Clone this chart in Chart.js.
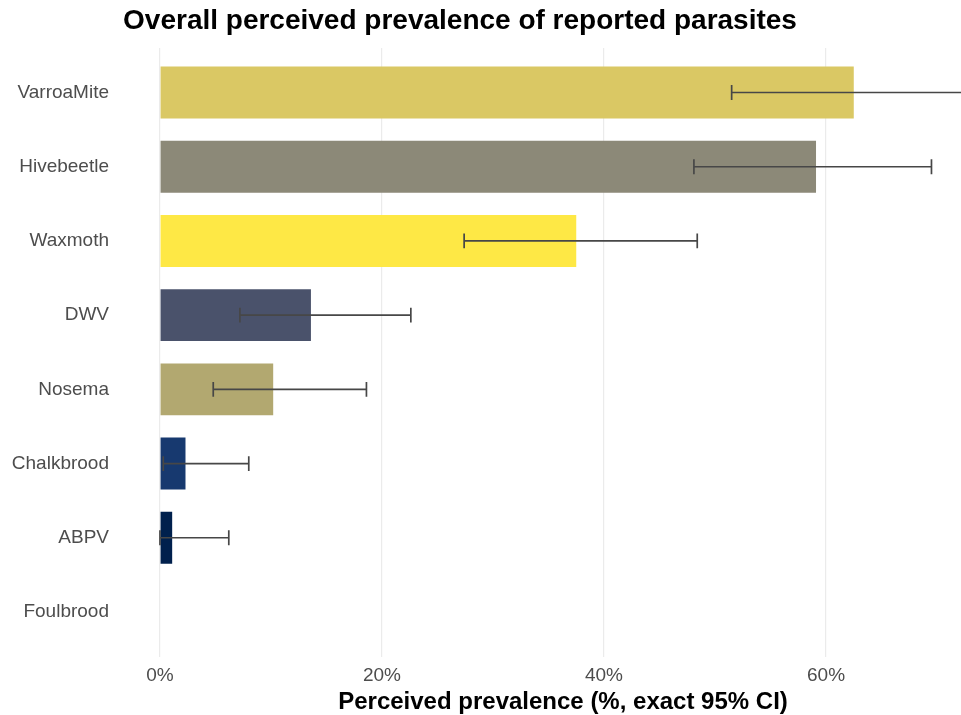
<!DOCTYPE html>
<html>
<head>
<meta charset="utf-8">
<title>Overall perceived prevalence of reported parasites</title>
<script src="https://cdn.jsdelivr.net/npm/chart.js@4/dist/chart.umd.min.js"></script>
<style>
  html, body { margin: 0; padding: 0; background: #ffffff; }
  #chart { display: block; }
</style>
</head>
<body>
<canvas id="chart" width="961" height="715"></canvas>
<script>
// Parasites, top to bottom
const categories = ['VarroaMite', 'Hivebeetle', 'Waxmoth', 'DWV', 'Nosema', 'Chalkbrood', 'ABPV', 'Foulbrood'];
// Perceived prevalence (%)
const prevalence = [62.5, 59.1, 37.5, 13.6, 10.2, 2.3, 1.1, 0];
// Exact (Clopper-Pearson) 95% confidence limits (%)
const ciLower = [51.5, 48.1, 27.4, 7.2, 4.8, 0.3, 0.0, null];
const ciUpper = [72.6, 69.5, 48.4, 22.6, 18.6, 8.0, 6.2, null];
// Percent ticks along the x axis
const xTicks = [0, 20, 40, 60];

const barColors = ['#DAC864', '#8C8978', '#FEE845', '#4A526B', '#B2A870', '#17396F', '#00204D', '#00204D'];

const FONT = "'Liberation Sans', Arial, Helvetica, sans-serif";

// Horizontal error bars with end caps
const errorBars = {
  id: 'errorBars',
  afterDatasetsDraw(chart) {
    const { ctx, chartArea, scales: { x, y } } = chart;
    ctx.save();
    ctx.beginPath();
    ctx.rect(chartArea.left, chartArea.top, chartArea.right - chartArea.left, chartArea.bottom - chartArea.top);
    ctx.clip();
    ctx.strokeStyle = '#474747';
    ctx.lineWidth = 1.7;
    categories.forEach((c, i) => {
      if (ciLower[i] == null || ciUpper[i] == null) return;
      const x0 = x.getPixelForValue(ciLower[i]);
      const x1 = x.getPixelForValue(ciUpper[i]);
      const yc = y.getPixelForValue(i);
      const ya = y.getPixelForValue(i - 0.1);
      const yb = y.getPixelForValue(i + 0.1);
      ctx.beginPath();
      ctx.moveTo(x0, yc); ctx.lineTo(x1, yc);
      ctx.moveTo(x0, ya); ctx.lineTo(x0, yb);
      ctx.moveTo(x1, ya); ctx.lineTo(x1, yb);
      ctx.stroke();
    });
    ctx.restore();
  }
};

// Plot title and x-axis title
const titles = {
  id: 'titles',
  afterDraw(chart) {
    const { ctx } = chart;
    ctx.save();
    ctx.fillStyle = '#000000';
    ctx.textAlign = 'center';
    ctx.textBaseline = 'middle';
    ctx.font = 'bold 28px ' + FONT;
    ctx.fillText('Overall perceived prevalence of reported parasites', 460, 21);
    ctx.font = 'bold 24px ' + FONT;
    ctx.fillText('Perceived prevalence (%, exact 95% CI)', 563, 702);
    ctx.restore();
  }
};

new Chart(document.getElementById('chart'), {
  type: 'bar',
  data: {
    datasets: [{
      data: prevalence.map((v, i) => ({ x: v, y: i })),
      backgroundColor: barColors,
      borderWidth: 0,
      barPercentage: 0.7,
      categoryPercentage: 1.0
    }]
  },
  options: {
    indexAxis: 'y',
    responsive: false,
    animation: false,
    layout: { padding: { top: 48, right: 0, bottom: 0, left: 0 } },
    plugins: {
      legend: { display: false },
      tooltip: { enabled: false },
      title: { display: false }
    },
    scales: {
      x: {
        type: 'linear',
        position: 'bottom',
        min: -3.6,
        max: 72.16,
        afterBuildTicks(scale) { scale.ticks = xTicks.map(v => ({ value: v })); },
        afterFit(scale) { scale.height = 58.5; },
        grid: { color: '#EBEBEB', lineWidth: 1.2, drawTicks: false },
        border: { display: false },
        ticks: {
          padding: 8,
          color: '#4D4D4D',
          font: { family: FONT, size: 19 },
          callback: v => v + '%'
        }
      },
      y: {
        type: 'linear',
        reverse: true,
        offset: false,
        min: -0.6,
        max: 7.6,
        afterBuildTicks(scale) { scale.ticks = categories.map((c, i) => ({ value: i })); },
        afterFit(scale) { scale.width = 120; },
        grid: { display: false, drawTicks: false, offset: false },
        border: { display: false },
        ticks: {
          padding: 11,
          color: '#4D4D4D',
          font: { family: FONT, size: 19 },
          callback: v => categories[v]
        }
      }
    }
  },
  plugins: [errorBars, titles]
});
</script>
</body>
</html>
